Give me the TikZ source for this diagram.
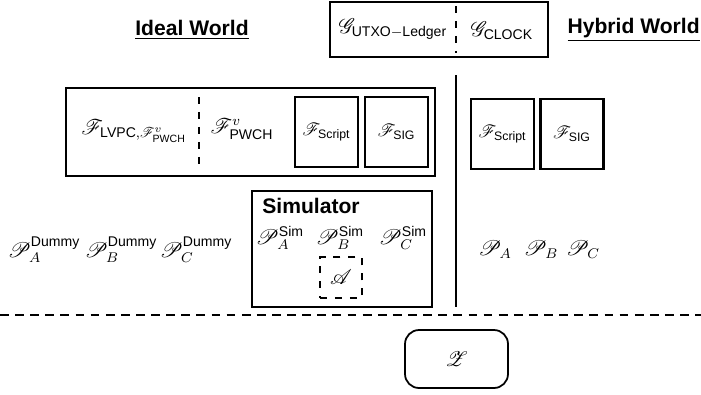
\documentclass[tikz,border=0pt]{standalone}
\usepackage{amsmath,amssymb}
\usepackage{mathrsfs}
\usepackage{fontspec}
\setsansfont{Liberation Sans}
\usetikzlibrary{positioning,calc}
\tikzset{
  worldlbl/.style={font=\large\sffamily\bfseries, inner sep=0pt},
  funcbox/.style={draw, line width=1.4pt, inner sep=0pt},
  sepln/.style={line width=1.2pt},
  dashsep/.style={line width=1.2pt, dash pattern=on 5pt off 3.6pt},
  shortdash/.style={line width=1pt, dash pattern=on 4pt off 4.5pt},
  party/.style={font=\large, inner sep=0pt},
}
\newcommand{\sfx}[1]{\textsf{#1}}

\begin{document}
\begin{tikzpicture}[x=0.2mm, y=-0.2mm]
    \useasboundingbox (0,0) rectangle (701,394);
    % titles
    \node[worldlbl] (ideal) at (192,30) {\underline{Ideal World}};
    \node[worldlbl, anchor=east] (hybrid) at (700,30) {\underline{Hybrid World}};
    % global functionalities
    \node[funcbox, minimum width=218*0.2mm, minimum height=55*0.2mm] (glob) at (439,29.5) {};
    \coordinate (gtop) at (456,6);
    \coordinate (gbot) at (456,53);
    \draw[shortdash] (gtop) -- (gbot);
    \node[party] (ledger) at (393,29) {$\mathscr{G}_{\sfx{UTXO}-\sfx{Ledger}}$};
    \node[party] (clock) at (502,31) {$\mathscr{G}_{\sfx{CLOCK}}$};
    % ideal functionality
    \node[funcbox, minimum width=369*0.2mm, minimum height=88*0.2mm] (ideal box) at (250.5,132) {};
    \coordinate (itop) at (199,97);
    \coordinate (ibot) at (199,170);
    \draw[shortdash] (itop) -- (ibot);
    \node[party] (lvpc) at (134,131) {$\mathscr{F}_{\sfx{LVPC},\mathscr{F}^{v}_{\sfx{PWCH}}}$};
    \node[party] (pwch) at (242,129) {$\mathscr{F}^{v}_{\sfx{PWCH}}$};
    \node[funcbox, minimum width=63*0.2mm, minimum height=70*0.2mm] (script L) at (326.5,132) {$\mathscr{F}_{\sfx{Script}}$};
    \node[funcbox, minimum width=63*0.2mm, minimum height=70*0.2mm] (sig L) at (396.5,132) {$\mathscr{F}_{\sfx{SIG}}$};
    % hybrid functionalities
    \node[funcbox, minimum width=63*0.2mm, minimum height=70*0.2mm] (script R) at (502.5,134) {$\mathscr{F}_{\sfx{Script}}$};
    \node[funcbox, minimum width=63*0.2mm, minimum height=70*0.2mm] (sig R) at (572,134) {$\mathscr{F}_{\sfx{SIG}}$};
    % world separator
    \coordinate (wtop) at (456,75);
    \coordinate (wbot) at (456,307);
    \draw[sepln] (wtop) -- (wbot);
    % simulator
    \node[funcbox, minimum width=180*0.2mm, minimum height=116*0.2mm] (sim) at (342,249) {};
    \node[font=\large\sffamily\bfseries, anchor=north west, inner sep=0pt] (simlbl) at (262,198) {Simulator};
    \node[party] (simA) at (280,238) {$\mathscr{P}^{\sfx{Sim}}_{A}$};
    \node[party] (simB) at (340,238) {$\mathscr{P}^{\sfx{Sim}}_{B}$};
    \node[party] (simC) at (403,238) {$\mathscr{P}^{\sfx{Sim}}_{C}$};
    \node[draw, shortdash, minimum width=42*0.2mm, minimum height=41*0.2mm, party] (adv) at (341,277.5) {$\mathscr{A}$};
    % dummy parties
    \node[party] (dumA) at (44,250) {$\mathscr{P}^{\sfx{Dummy}}_{A}$};
    \node[party] (dumB) at (121,250) {$\mathscr{P}^{\sfx{Dummy}}_{B}$};
    \node[party] (dumC) at (196,250) {$\mathscr{P}^{\sfx{Dummy}}_{C}$};
    % real parties
    \node[party] (pA) at (495,250) {$\mathscr{P}_{A}$};
    \node[party] (pB) at (541,250) {$\mathscr{P}_{B}$};
    \node[party] (pC) at (583,250) {$\mathscr{P}_{C}$};
    % environment
    \coordinate (envl) at (0,315);
    \coordinate (envr) at (701,315);
    \draw[dashsep] (envl) -- (envr);
    \node[draw, line width=1pt, rounded corners=8pt, minimum width=103*0.2mm, minimum height=58*0.2mm, party] (env) at (456.5,359) {$\mathscr{Z}$};
  \end{tikzpicture}
\end{document}
